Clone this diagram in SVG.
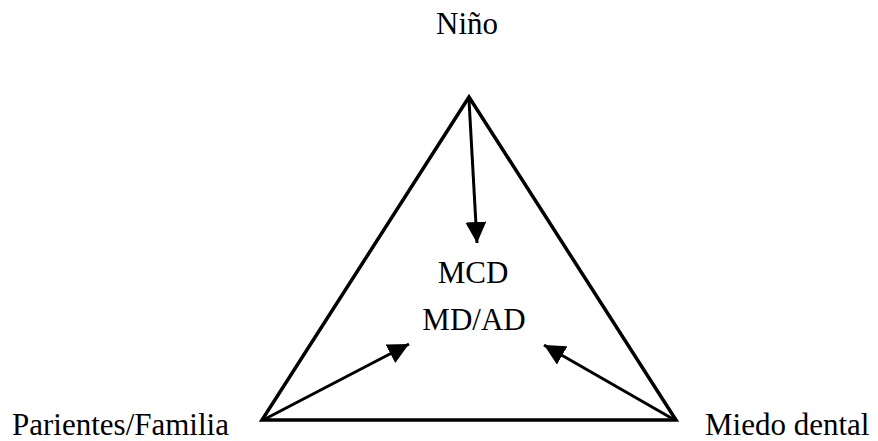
<svg xmlns="http://www.w3.org/2000/svg" width="878" height="441" viewBox="0 0 878 441">
<defs>
<style>
.lbl{font-family:"Liberation Serif","Times New Roman",serif;font-size:31px;fill:#000;}
.edge{stroke:#000;stroke-width:3;fill:none;}
</style>
<marker id="ah" viewBox="0 0 20 20" refX="20" refY="10" markerWidth="21" markerHeight="21" markerUnits="userSpaceOnUse" orient="auto">
<path d="M0,0 L20,10 L0,20 Z" fill="#000"/>
</marker>
</defs>
<rect width="878" height="441" fill="#fff"/>
<g id="triangle">
<path d="M469,97 L262,420 L676,420 Z" fill="none" stroke="#000" stroke-width="3.5" stroke-linejoin="miter"/>
</g>
<g id="nino"><text class="lbl" x="467" y="34" text-anchor="middle">Niño</text></g>
<g id="centro">
<text class="lbl" x="473" y="283" text-anchor="middle">MCD</text>
<text class="lbl" x="474" y="330" text-anchor="middle">MD/AD</text>
</g>
<g id="parientes"><text class="lbl" x="12" y="435">Parientes/Familia</text></g>
<g id="miedo"><text class="lbl" x="705" y="435">Miedo dental</text></g>
<g id="connectors">
<line class="edge" x1="469" y1="100" x2="477" y2="243" marker-end="url(#ah)"/>
<line class="edge" x1="265" y1="419" x2="409" y2="344" marker-end="url(#ah)"/>
<line class="edge" x1="673" y1="419" x2="544" y2="345" marker-end="url(#ah)"/>
</g>
</svg>
